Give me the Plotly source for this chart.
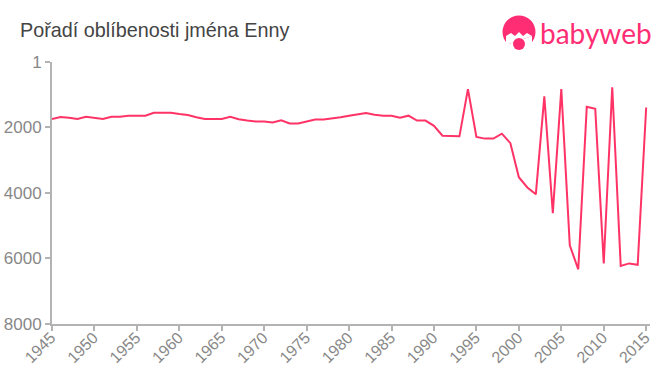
import plotly.graph_objects as go

years = list(range(1945, 2016))
ranks = [1745, 1680, 1700, 1740, 1670, 1710, 1740, 1670, 1670, 1640,
         1640, 1640, 1550, 1550, 1550, 1590, 1620, 1690, 1740, 1740,
         1740, 1670, 1750, 1790, 1820, 1820, 1850, 1780, 1880, 1880,
         1810, 1760, 1760, 1730, 1690, 1640, 1610, 1560, 1610, 1640,
         1640, 1700, 1640, 1790, 1790, 1950, 2250, 2250, 2270, 830,
         2290, 2340, 2340, 2190, 2480, 3520, 3830, 4040, 1050, 4620,
         830, 5600, 6330, 1370, 1430, 6150, 770, 6230, 6150, 6190, 1390]
y_ticks = [1, 2000, 4000, 6000, 8000]
x_ticks = list(range(1945, 2016, 5))
title_text = "Pořadí oblíbenosti jména Enny"
brand = "babyweb"

W, H = 660, 375
ML, MR, MT, MB = 52, 10, 62, 51
PINK = "#ff2e74"


def px(x):
    return (x - ML) / (W - ML - MR)


def py(y):
    return 1 - (y - MT) / (H - MT - MB)


def circle(cx, cy, r, color):
    return dict(type="circle", xref="paper", yref="paper", layer="above",
                x0=px(cx - r), x1=px(cx + r), y0=py(cy + r), y1=py(cy - r),
                fillcolor=color, line_width=0)


fig = go.Figure(go.Scatter(
    x=years, y=ranks, mode="lines",
    line=dict(color="#ff3366", width=2),
    hoverinfo="skip", cliponaxis=False,
))

face = "M {} {} L {} {} L {} {} L {} {} L {} {} L {} {} L {} {} L {} {} Z".format(
    *[v for p in [(506, 45), (506, 36), (511, 33), (515, 36), (519, 32), (523, 36), (527, 33), (532, 36)]
      for v in (px(p[0]), py(p[1]))])
face2 = "M {} {} L {} {} L {} {} L {} {} Z".format(
    *[v for p in [(506, 45), (532, 36), (532, 45), (519, 52)]
      for v in (px(p[0]), py(p[1]))])

axis_style = dict(showgrid=False, zeroline=False, showline=True, automargin=False,
                  linecolor="#b3b3b3", linewidth=2, ticks="outside", ticklen=5,
                  tickwidth=2, tickcolor="#b3b3b3")

fig.update_layout(
    width=W, height=H, autosize=False,
    margin=dict(l=ML, r=MR, t=MT, b=MB),
    paper_bgcolor="white", plot_bgcolor="white",
    showlegend=False,
    font=dict(family="Liberation Sans, Arial, sans-serif", color="#888888", size=17),
    xaxis=dict(range=[1945, 2015.45], tickvals=x_ticks, tickangle=-45,
               ticklabelstandoff=-9, ticklabelshift=-1,
               tickfont=dict(size=16, color="#888888"), **axis_style),
    yaxis=dict(range=[8000, 1], tickvals=y_ticks,
               tickfont=dict(size=17, color="#888888"), **axis_style),
    annotations=[
        dict(text=title_text, xref="paper", yref="paper", x=px(18), y=py(30),
             xanchor="left", yanchor="middle", showarrow=False,
             font=dict(size=19.8, color="#444444")),
        dict(text=brand, xref="paper", yref="paper", x=px(538), y=py(33),
             xanchor="left", yanchor="middle", showarrow=False,
             font=dict(family="Lato, sans-serif", size=28, color=PINK)),
    ],
    shapes=[
        circle(519, 32, 16.5, PINK),
        dict(type="path", path=face, xref="paper", yref="paper", layer="above",
             fillcolor="white", line_width=0),
        dict(type="path", path=face2, xref="paper", yref="paper", layer="above",
             fillcolor="white", line_width=0),
        circle(519, 44, 6, PINK),
    ],
)

fig.write_html("out.html", config={"displayModeBar": False},
               post_script="document.body.style.margin='0';document.body.style.overflow='hidden';")
